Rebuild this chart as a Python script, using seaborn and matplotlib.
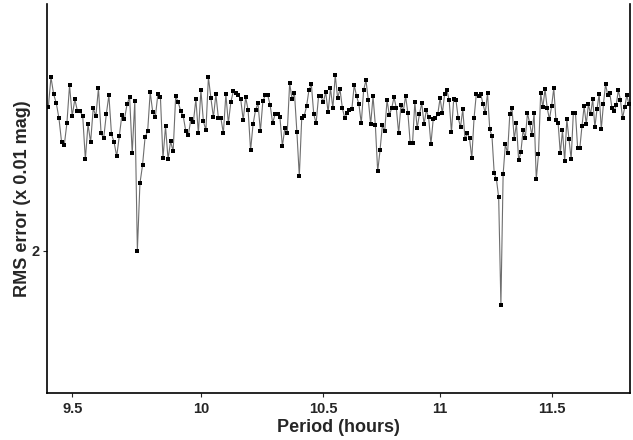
import numpy as np
import pandas as pd
import matplotlib
matplotlib.use('Agg')
import matplotlib.pyplot as plt
import matplotlib.ticker as mticker
import seaborn as sns

sns.set_style('ticks')
plt.rcParams['font.family'] = ['Liberation Sans', 'DejaVu Sans']

# period grid of the periodogram (hours), step
period_start = 9.41
period_step = 0.01

# RMS error (x 0.01 mag) at each trial period
rms = [
    2.143, 2.173, 2.156, 2.147, 2.132, 2.108, 2.105, 2.127, 2.165, 2.134,
    2.151, 2.139, 2.139, 2.134, 2.091, 2.126, 2.108, 2.142, 2.134, 2.162,
    2.117, 2.112, 2.136, 2.155, 2.116, 2.108, 2.094, 2.114, 2.135, 2.131,
    2.146, 2.153, 2.097, 2.149, 2.000, 2.067, 2.085, 2.113, 2.119, 2.158,
    2.138, 2.133, 2.156, 2.153, 2.092, 2.124, 2.091, 2.109, 2.099, 2.154,
    2.148, 2.139, 2.134, 2.119, 2.115, 2.131, 2.128, 2.151, 2.117, 2.160,
    2.129, 2.120, 2.173, 2.152, 2.133, 2.156, 2.132, 2.132, 2.117, 2.156,
    2.127, 2.148, 2.159, 2.157, 2.155,
    2.151, 2.130, 2.153, 2.140, 2.100, 2.126, 2.140, 2.147, 2.119, 2.149,
    2.155, 2.155, 2.145, 2.127, 2.136, 2.136, 2.133, 2.104, 2.122, 2.117,
    2.167, 2.151, 2.157, 2.118, 2.074, 2.132, 2.134, 2.144, 2.160, 2.166,
    2.136, 2.127, 2.154, 2.154, 2.148, 2.158, 2.138, 2.162, 2.142, 2.175,
    2.152, 2.161, 2.142, 2.132, 2.137, 2.140, 2.141, 2.165, 2.154, 2.146,
    2.127, 2.160, 2.170, 2.150, 2.126, 2.154, 2.125, 2.079, 2.100, 2.125,
    2.119, 2.150, 2.135, 2.142, 2.153, 2.142, 2.117, 2.145, 2.139, 2.154,
    2.137, 2.107, 2.107, 2.148, 2.122, 2.136, 2.147, 2.126, 2.140, 2.133,
    2.106, 2.131,
    2.132, 2.136, 2.152, 2.137, 2.156, 2.160, 2.150, 2.118, 2.151, 2.150,
    2.132, 2.123, 2.141, 2.111, 2.117, 2.112, 2.092, 2.132, 2.156, 2.154,
    2.156, 2.146, 2.137, 2.157, 2.121, 2.114, 2.077, 2.071, 2.053, 1.946,
    2.076, 2.106, 2.097, 2.136, 2.142, 2.111, 2.127, 2.090, 2.098, 2.120,
    2.112, 2.137, 2.127, 2.115, 2.137, 2.071, 2.096, 2.157, 2.143, 2.161,
    2.142, 2.131, 2.144, 2.162, 2.130, 2.127, 2.097, 2.120, 2.089, 2.131,
    2.111, 2.091, 2.137, 2.137, 2.102, 2.102, 2.124, 2.144, 2.126, 2.146,
    2.136, 2.151, 2.123, 2.141, 2.156, 2.121, 2.146, 2.166, 2.155, 2.157,
    2.142, 2.139, 2.145, 2.160, 2.150, 2.132, 2.143, 2.155, 2.146,
]
period = np.round(period_start + period_step * np.arange(len(rms)), 2)
xticks = [9.5, 10, 10.5, 11, 11.5]
xticklabels = ['9.5', '10', '10.5', '11', '11.5']

df = pd.DataFrame({'period': period, 'rms': rms})

fig = plt.figure(figsize=(6.33, 4.40), dpi=100)
ax = fig.add_axes([0.0742, 0.107, 0.9214, 0.884])
sns.lineplot(data=df, x='period', y='rms', ax=ax, color='#6e6e6e', linewidth=0.8,
             marker='s', markersize=2.3, markerfacecolor='black',
             markeredgecolor='black', markeredgewidth=0)

ax.set_xscale('log')
ax.set_xlim(9.405, 11.866)
ax.set_ylim(1.858, 2.246)
ax.xaxis.set_major_locator(mticker.FixedLocator(xticks))
ax.xaxis.set_major_formatter(mticker.FixedFormatter(xticklabels))
ax.xaxis.set_minor_locator(mticker.NullLocator())
ax.set_yticks([2])
ax.set_yticklabels(['2'])
ax.yaxis.set_minor_locator(mticker.NullLocator())
ax.tick_params(axis='both', length=3, width=0.8, labelsize=10.5)
ax.tick_params(axis='y', pad=2)
for lab in ax.get_xticklabels() + ax.get_yticklabels():
    lab.set_fontweight('bold')

ax.set_xlabel('Period (hours)', fontsize=13, fontweight='bold', labelpad=2)
ax.set_ylabel('RMS error (x 0.01 mag)', fontsize=13, fontweight='bold', labelpad=1)
ax.spines['top'].set_visible(False)
for s in ['left', 'bottom', 'right']:
    ax.spines[s].set_linewidth(1.2)
    ax.spines[s].set_color('black')

plt.savefig('out.png', dpi=100)
